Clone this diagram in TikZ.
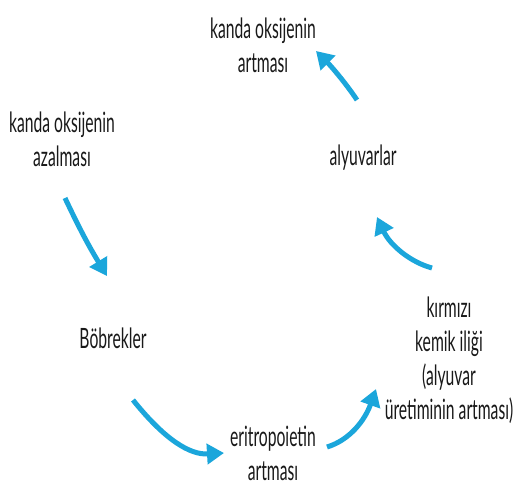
\documentclass[tikz,border=0pt]{standalone}
\usepackage{fontspec}
\setmainfont{Lato}[FakeStretch=0.56]
\usetikzlibrary{arrows.meta}
\definecolor{cyanarrow}{HTML}{1BA6DB}
\begin{document}
\begin{tikzpicture}[x=1pt,y=-1pt,
  lbl/.style={font=\fontsize{28}{34}\selectfont, align=center, inner sep=2pt, text=black!90},
  flow/.style={draw=cyanarrow, line width=5pt, -{Triangle[length=17pt,width=20pt]}}]
\useasboundingbox[fill=white] (0,0) rectangle (522,491);
\node[lbl] (top) at (263,45) {kanda oksijenin\\artması};
\node[lbl] (azal) at (62,139) {kanda oksijenin\\azalması};
\node[lbl] (alyu) at (363,158) {alyuvarlar};
\node[lbl] (bob) at (113,338) {Böbrekler};
\node[lbl] (eri) at (273,453) {eritropoietin\\artması};
\node[lbl] (kmi) at (449,360) {kırmızı\\kemik iliği\\(alyuvar\\üretiminin artması)};
\coordinate (a1s) at (65,198);   \coordinate (a1e) at (107,276);
\coordinate (a2s) at (133,400);  \coordinate (a2e) at (224,453);
\coordinate (a3s) at (327,447);  \coordinate (a3e) at (376,389);
\coordinate (a4s) at (432,268);  \coordinate (a4e) at (377,217);
\coordinate (a5s) at (357,100);  \coordinate (a5e) at (316,51);
\draw[flow] (a1s) to[bend right=3] (a1e);
\draw[flow] (a2s) .. controls (165,440) and (190,455) .. (a2e);
\draw[flow] (a3s) .. controls (350,440) and (365,420) .. (a3e);
\draw[flow] (a4s) .. controls (410,262) and (390,245) .. (a4e);
\draw[flow] (a5s) .. controls (345,82) and (330,65) .. (a5e);
\end{tikzpicture}
\end{document}
